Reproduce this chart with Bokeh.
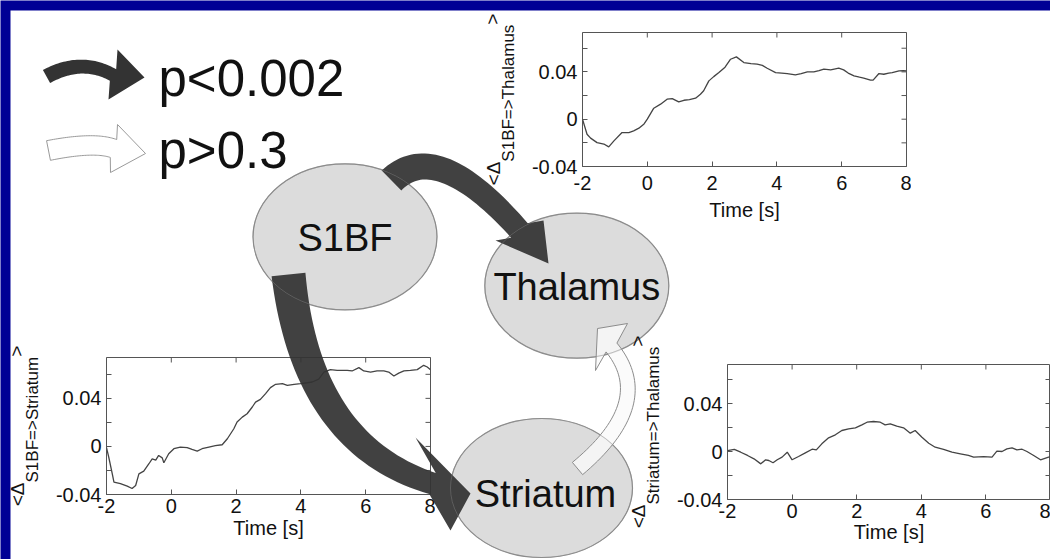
import math
from bokeh.plotting import figure
from bokeh.models import Range1d, FixedTicker, PrintfTickFormatter
from bokeh.core.properties import value
from bokeh.embed import file_html
from bokeh.resources import INLINE

W, H = 1050, 559
FONT = "Liberation Sans"
BLUE = "#000095"

# ---------------- data ----------------
time_ticks = [-2, 0, 2, 4, 6, 8]
y_ticks = [-0.04, 0, 0.04]
y_minor = [-0.02, 0.02, 0.06]

# <Delta S1BF=>Thalamus>
thal_t = [-2.0, -1.86, -1.75, -1.55, -1.34, -1.19, -1.03, -0.78, -0.57, -0.42, -0.26, -0.1, 0.0,
          0.2, 0.41, 0.61, 0.77, 0.97, 1.13, 1.3, 1.49, 1.64, 1.74, 1.9, 2.05, 2.21, 2.4, 2.57,
          2.75, 2.98, 3.2, 3.39, 3.55, 3.70, 3.96, 4.15, 4.32, 4.57, 4.75, 4.94, 5.14, 5.3, 5.45,
          5.66, 5.91, 6.06, 6.2, 6.38, 6.55, 6.68, 6.89, 6.97, 7.15, 7.30, 7.45, 7.56, 7.77, 7.9, 8.0]
thal_v = [0.0, -0.0127, -0.016, -0.0198, -0.021, -0.0234, -0.0183, -0.0113, -0.0113, -0.0099,
          -0.0076, -0.004, 0.0, 0.0093, 0.0127, 0.0169, 0.0174, 0.0146, 0.016, 0.0165, 0.0178,
          0.0211, 0.024, 0.0324, 0.036, 0.0394, 0.044, 0.0507, 0.0527, 0.0479, 0.047, 0.0465,
          0.0455, 0.0431, 0.0394, 0.039, 0.0386, 0.0375, 0.0385, 0.04, 0.04, 0.041, 0.0423, 0.0417,
          0.0431, 0.0417, 0.039, 0.0366, 0.0355, 0.0347, 0.033, 0.033, 0.0386, 0.038, 0.039, 0.0394,
          0.0408, 0.041, 0.0408]

# <Delta S1BF=>Striatum>
stri_t = [-2.0, -1.93, -1.82, -1.77, -1.57, -1.36, -1.21, -1.1, -1.0, -0.85, -0.69, -0.59, -0.48,
          -0.39, -0.28, -0.23, -0.08, 0.08, 0.28, 0.49, 0.64, 0.80, 0.95, 1.16, 1.36, 1.57, 1.73,
          1.93, 2.03, 2.19, 2.34, 2.5, 2.6, 2.75, 2.91, 3.06, 3.22, 3.43, 3.58, 3.79, 3.99, 4.2,
          4.35, 4.55, 4.71, 4.91, 5.12, 5.43, 5.58, 5.79, 5.94, 6.15, 6.35, 6.56, 6.71, 6.87, 7.02,
          7.18, 7.38, 7.59, 7.79, 7.90, 8.0]
stri_v = [-0.001, -0.009, -0.023, -0.0297, -0.031, -0.033, -0.035, -0.0325, -0.0228, -0.0206,
          -0.0144, -0.0103, -0.0114, -0.0075, -0.0095, -0.0136, -0.0061, -0.0019, -0.0005, -0.001,
          -0.0025, -0.0039, -0.0019, -0.0005, 0.0006, 0.0014, 0.0064, 0.0147, 0.0203, 0.0244,
          0.0272, 0.0328, 0.0369, 0.0392, 0.0439, 0.0489, 0.0517, 0.0522, 0.0508, 0.0517, 0.0522,
          0.053, 0.0536, 0.056, 0.0619, 0.0639, 0.0633, 0.0633, 0.0628, 0.0656, 0.0628, 0.0619,
          0.0628, 0.0628, 0.0619, 0.0586, 0.061, 0.0628, 0.0633, 0.0639, 0.0675, 0.0661, 0.0639]

# <Delta Striatum=>Thalamus>
st_t = [-2.0, -1.79, -1.59, -1.38, -1.18, -0.97, -0.82, -0.72, -0.59, -0.46, -0.31, -0.15, 0.0,
        0.20, 0.41, 0.62, 0.75, 0.92, 1.13, 1.34, 1.54, 1.75, 1.96, 2.16, 2.32, 2.52, 2.73, 2.88,
        3.04, 3.24, 3.45, 3.66, 3.81, 4.02, 4.23, 4.43, 4.69, 4.95, 5.21, 5.46, 5.62, 5.93, 6.19,
        6.34, 6.50, 6.65, 6.81, 6.96, 7.12, 7.27, 7.48, 7.69, 7.94, 8.0]
st_v = [0.0008, 0.0017, -0.0006, -0.0033, -0.0061, -0.0103, -0.0069, -0.0075, -0.0094, -0.0069,
        -0.0047, -0.0006, -0.0069, -0.0042, -0.0011, 0.0019, 0.0014, 0.0064, 0.0114, 0.0139,
        0.0175, 0.0189, 0.0197, 0.0222, 0.0244, 0.025, 0.0244, 0.0222, 0.0231, 0.0211, 0.0197,
        0.0153, 0.0175, 0.0119, 0.0069, 0.0036, 0.0017, -0.0006, -0.0019, -0.0033, -0.0047,
        -0.0042, -0.0047, 0.0003, 0.0, 0.0022, 0.0031, 0.0014, 0.0019, 0.0, -0.0033, -0.0069,
        -0.0047, -0.0045]

regions = ["S1BF", "Thalamus", "Striatum"]
legend_labels = ["p<0.002", "p>0.3"]
x_label = "Time [s]"

TICK = "#555555"
TXT = "#111111"


# ---------------- small MATLAB-style plots ----------------
def style_axis(ax, is_y, standoff):
    ax.ticker = FixedTicker(ticks=y_ticks if is_y else time_ticks,
                            minor_ticks=y_minor if is_y else [])
    ax.formatter = PrintfTickFormatter(format="%g")
    ax.axis_line_color = None
    ax.major_tick_line_color = TICK
    ax.minor_tick_line_color = TICK
    ax.major_tick_in = 5
    ax.major_tick_out = 0
    ax.minor_tick_in = 5
    ax.minor_tick_out = 0
    ax.major_label_text_font = FONT
    ax.major_label_text_color = TXT
    ax.major_label_text_font_size = "20px"
    ax.major_label_standoff = standoff


def small_plot(t, v, frame_left, frame_top, frame_w, frame_h, y_top,
               right_border=5, bottom=62, x_standoff=8, label_standoff=6):
    L, T = 75, 5
    p = figure(width=L + frame_w + right_border, height=T + frame_h + bottom,
               x_range=Range1d(-2, 8), y_range=Range1d(-0.04, y_top),
               output_backend="svg", toolbar_location=None,
               min_border_left=L, min_border_right=right_border,
               min_border_top=T, min_border_bottom=bottom)
    p.grid.visible = False
    p.background_fill_color = "white"
    p.border_fill_alpha = 0
    p.outline_line_color = TICK
    p.outline_line_width = 1
    style_axis(p.xaxis[0], False, x_standoff)
    style_axis(p.yaxis[0], True, 5)
    p.xaxis[0].axis_label = x_label
    p.xaxis[0].axis_label_text_font = FONT
    p.xaxis[0].axis_label_text_font_size = "20px"
    p.xaxis[0].axis_label_text_font_style = "normal"
    p.xaxis[0].axis_label_text_color = TXT
    p.xaxis[0].axis_label_standoff = label_standoff
    # inward ticks on the top and right edges of the box (clipped to the frame)
    p.scatter(x=time_ticks, y=[y_top] * len(time_ticks), marker="dash", angle=math.pi / 2,
              size=10, line_color=TICK, line_width=1)
    yt = y_ticks + y_minor
    p.scatter(x=[8] * len(yt), y=yt, marker="dash", size=10, line_color=TICK, line_width=1)
    p.line(t, v, line_color="#444444", line_width=1.3)
    p.styles = {"position": "absolute", "left": f"{frame_left - L}px",
                "top": f"{frame_top - T}px"}
    return p


p_tr = small_plot(thal_t, thal_v, 582, 32, 324, 134, 0.0733, x_standoff=9, label_standoff=6)
p_ll = small_plot(stri_t, stri_v, 106, 357, 324, 137, 0.074, bottom=58,
                  x_standoff=4, label_standoff=1)
p_lr = small_plot(st_t, st_v, 727, 364, 323, 135, 0.0725, right_border=0, bottom=58,
                  x_standoff=4, label_standoff=0)

# ---------------- background layer ----------------
bg = figure(width=W, height=H, x_range=Range1d(0, W), y_range=Range1d(H, 0),
            output_backend="svg", toolbar_location=None, min_border=0,
            x_axis_location=None, y_axis_location=None)
bg.grid.visible = False
bg.outline_line_color = None
bg.background_fill_color = BLUE
bg.border_fill_color = BLUE
bg.quad(left=[10], right=[W], top=[10], bottom=[H], fill_color="white", line_color=None)

# ---------------- diagram layer (on top) ----------------
top = figure(width=W, height=H, x_range=Range1d(0, W), y_range=Range1d(H, 0),
             output_backend="svg", toolbar_location=None, min_border=0,
             x_axis_location=None, y_axis_location=None)
top.grid.visible = False
top.outline_line_color = None
top.background_fill_alpha = 0
top.border_fill_alpha = 0
top.styles = {"position": "absolute", "left": "0px", "top": "0px"}


def band(p0, c, p1, w0, w1, head, n=40):
    left, right = [], []
    for i in range(n + 1):
        s = i / n
        x = (1 - s) ** 2 * p0[0] + 2 * (1 - s) * s * c[0] + s ** 2 * p1[0]
        y = (1 - s) ** 2 * p0[1] + 2 * (1 - s) * s * c[1] + s ** 2 * p1[1]
        dx = 2 * (1 - s) * (c[0] - p0[0]) + 2 * s * (p1[0] - c[0])
        dy = 2 * (1 - s) * (c[1] - p0[1]) + 2 * s * (p1[1] - c[1])
        d = math.hypot(dx, dy)
        nx, ny = -dy / d, dx / d
        w = (w0 + (w1 - w0) * s) / 2
        left.append((x + nx * w, y + ny * w))
        right.append((x - nx * w, y - ny * w))
    a, tip, b = head
    if math.dist(a, left[-1]) > math.dist(b, left[-1]):
        a, b = b, a
    pts = left + [a, tip, b] + right[::-1]
    return [q[0] for q in pts], [q[1] for q in pts]


# region ellipses
ell_x = [344.5, 576.3, 541.0]
ell_y = [236.3, 285.2, 487.5]
ell_w = [184, 184, 182]
ell_h = [146, 145, 139]
top.ellipse(x=ell_x, y=ell_y, width=ell_w, height=ell_h,
            fill_color="#dcdcdc", line_color="#8c8c8c", line_width=1.2)

# significant (dark) arrows
arrows_dark = [
    band((391, 180), (436, 136), (519, 230), 28, 22, [(495, 240), (548, 263), (543, 220)]),
    band((288, 274), (306, 444), (432, 483), 34, 22, [(415, 437), (470, 493), (450, 530)]),
]
top.patches(xs=[a[0] for a in arrows_dark], ys=[a[1] for a in arrows_dark],
            fill_color="#333333", fill_alpha=0.93, line_color=None)

# non-significant (white) arrow
wa = band((577, 468), (656, 402), (611, 347), 16, 14, [(595, 370), (597, 328), (627, 323)])
top.patch(x=wa[0], y=wa[1], fill_color="#fafafa", fill_alpha=0.8,
          line_color="#8c8c8c", line_width=1)

# ellipse outlines faintly over arrows
top.ellipse(x=ell_x, y=ell_y, width=ell_w, height=ell_h,
            fill_alpha=0, line_color="#8c8c8c", line_alpha=0.45, line_width=1)

# region names
top.text(x=[344.5, 576.3, 545.0], y=[237, 286, 493], text=regions,
         text_font=value(FONT), text_font_size="38px", text_align="center",
         text_baseline="middle", text_color=TXT)

# legend arrows
lg_dark = band((46, 76), (81, 57), (112.5, 74.5), 15, 13, [(117, 49), (144, 77), (108, 99)])
lg_white = band((48, 150), (93.5, 141), (113, 148), 20, 19, [(117, 124), (145, 153), (110, 172)])
top.patch(x=lg_dark[0], y=lg_dark[1], fill_color="#333333", line_color=None)
top.patch(x=lg_white[0], y=lg_white[1], fill_color="white", line_color="#9a9a9a", line_width=1)
top.text(x=[158, 158], y=[77.5, 150], text=legend_labels, text_font=value(FONT),
         text_font_size="51px", text_align="left", text_baseline="middle",
         text_color=TXT)

# rotated y-labels  <Delta_{A=>B}>
ADV = {"<": .584, ">": .584, "Δ": .668, "S": .667, "1": .556, "B": .667, "F": .611, "=": .584,
       "T": .611, "h": .556, "a": .556, "l": .222, "m": .833, "u": .556, "s": .5, "t": .278,
       "r": .333, "i": .222}


def tw(s, size):
    return sum(ADV.get(ch, .55) for ch in s) * size


def ylabel(frame_left, frame_top, frame_h, sub):
    big, small = 19, 17
    w1, w2, w3 = tw("<Δ", big), tw(sub, small), tw(">", big)
    y0 = frame_top + frame_h / 2 + (w1 + w2 + w3) / 2
    top.text(x=[frame_left - 89, frame_left - 90], y=[y0, y0 - w1 - w2], text=["<Δ", ">"],
             angle=math.pi / 2, text_font=value(FONT), text_font_size=f"{big}px",
             text_align="left", text_baseline="middle", text_color=TXT)
    top.text(x=[frame_left - 74], y=[y0 - w1], text=[sub], angle=math.pi / 2,
             text_font=value(FONT), text_font_size=f"{small}px", text_align="left",
             text_baseline="middle", text_color=TXT)


ylabel(582, 32, 134, "S1BF=>Thalamus")
ylabel(106, 357, 137, "S1BF=>Striatum")
ylabel(727, 364, 135, "Striatum=>Thalamus")

open("out.html", "w").write(file_html([bg, p_tr, p_ll, p_lr, top], INLINE, title="Granger"))
